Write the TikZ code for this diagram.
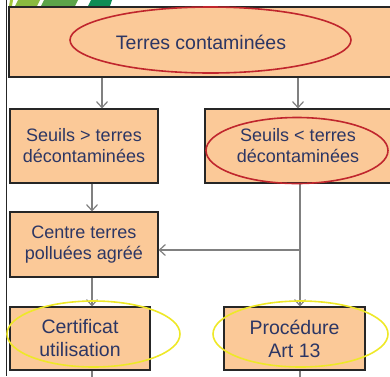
\documentclass[tikz,border=0pt]{standalone}
\usepackage{fontspec}
\setmainfont{Liberation Sans}
\usetikzlibrary{arrows.meta}

\definecolor{peche}{RGB}{251,201,152}
\definecolor{encre}{RGB}{44,54,100}
\definecolor{gristrait}{RGB}{128,128,128}
\definecolor{rougecercle}{RGB}{192,38,45}
\definecolor{jaunecercle}{RGB}{238,232,40}
\definecolor{vert1}{RGB}{166,200,58}
\definecolor{vert2}{RGB}{138,186,63}
\definecolor{vert3}{RGB}{92,164,74}
\definecolor{vert4}{RGB}{14,140,85}

\tikzset{
  boite/.style={draw=black!85, line width=1.1pt, fill=peche, text=encre,
    align=center, inner sep=0pt, font=\fontsize{18}{21}\selectfont},
  grande/.style={font=\fontsize{19.5}{23}\selectfont},
  fleche/.style={draw=gristrait, line width=1.2pt,
    -{Straight Barb[length=6pt,width=11pt]}},
  trait/.style={draw=gristrait, line width=1.2pt},
  cercle/.style={line width=1.6pt},
}

\begin{document}
\begin{tikzpicture}[x=1pt,y=-1pt]
\useasboundingbox (0,0) rectangle (390,376);
\clip (0,0) rectangle (390,376);

% bandeau vert
\fill[vert1] (9,6) -- (10,0) -- (13,0) -- (12,6) -- cycle;
\fill[vert2] (15,6) -- (18,0) -- (40,0) -- (37,6) -- cycle;
\fill[vert3] (41,6) -- (44,0) -- (78,0) -- (75,6) -- cycle;
\fill[vert4] (88,6) -- (91,0) -- (112,0) -- (110,6) -- cycle;
\draw[line width=1.8pt, black!85] (6.5,0) -- (6.5,376);

\node[boite, grande, minimum width=384pt, minimum height=70pt] (tc) at (201,42) {Terres contaminées};

\node[boite, minimum width=148pt, minimum height=74pt] (sup) at (84,146) {Seuils > terres\\décontaminées};
\node[boite, minimum width=186pt, minimum height=74pt] (inf) at (298,146) {Seuils < terres\\décontaminées};

\node[boite, minimum width=148pt, minimum height=65pt] (centre) at (84,244.5) {Centre terres\\polluées agréé};

\node[boite, grande, minimum width=140pt, minimum height=63pt] (certif) at (80,338.5) {Certificat\\utilisation};
\node[boite, grande, minimum width=141pt, minimum height=63pt] (proc) at (294.5,338.5) {Procédure\\Art 13};

\draw[fleche] ([xshift=18pt]sup.north |- tc.south) -- ([xshift=18pt]sup.north);
\draw[fleche] (inf.north |- tc.south) -- (inf.north);
\draw[fleche] ([xshift=8pt]sup.south) -- ([xshift=8pt]centre.north);
\draw[fleche] ([xshift=8pt]centre.south) -- ([xshift=12pt]certif.north);
\draw[fleche] ([xshift=2pt]inf.south) -- ([xshift=5.5pt]proc.north);

\coordinate (embr) at ([xshift=2pt]inf.south |- 0,250);
\draw[fleche] (embr) -- (embr -| centre.east);

\draw[trait] ([xshift=12pt]certif.south) -- ++(0,10);
\draw[trait] ([xshift=5.5pt]proc.south) -- ++(0,10);

\draw[cercle, rougecercle] (210.5,40) ellipse [x radius=140.5pt, y radius=33pt];
\draw[cercle, rougecercle] (297,150.5) ellipse [x radius=91pt, y radius=33pt];
\draw[cercle, jaunecercle] (93.5,334) ellipse [x radius=86.5pt, y radius=33pt];
\draw[cercle, jaunecercle] (300.5,334) ellipse [x radius=87.5pt, y radius=33pt];

\end{tikzpicture}
\end{document}
